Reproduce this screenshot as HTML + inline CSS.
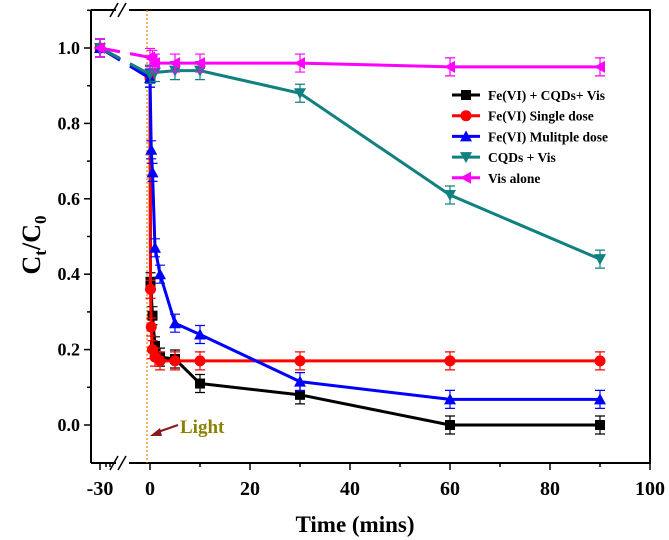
<!DOCTYPE html>
<html><head><meta charset="utf-8"><style>
body{margin:0;background:#fff}
svg{display:block;font-family:"Liberation Serif",serif;font-weight:bold}
</style></head><body>
<svg width="669" height="540" xmlns="http://www.w3.org/2000/svg">
<g id="plot"></g>
</svg>
<script>
const blackT=[-30,0,0.1,0.5,1,2,5,10,30,60,90];
const blackV=[1.0,0.93,0.38,0.29,0.21,0.18,0.175,0.11,0.08,0.0,0.0];
const redT=[-30,0,0.1,0.25,0.5,1,2,5,10,30,60,90];
const redV=[1.0,0.92,0.36,0.26,0.20,0.18,0.17,0.17,0.17,0.17,0.17,0.17];
const blueT=[-30,0,0.25,0.5,1,2,5,10,30,60,90];
const blueV=[1.0,0.92,0.73,0.67,0.47,0.40,0.27,0.24,0.115,0.068,0.068];
const tealT=[-30,0,1,5,10,30,60,90];
const tealV=[1.0,0.93,0.935,0.94,0.94,0.88,0.61,0.44];
const magT=[-30,0,0.5,1,5,10,30,60,90];
const magV=[1.0,0.975,0.97,0.96,0.96,0.96,0.96,0.95,0.95];
const xTickLabels=["-30","0","20","40","60","80","100"];
const yTickLabels=["0.0","0.2","0.4","0.6","0.8","1.0"];
const legendLabels=["Fe(VI) + CQDs+ Vis","Fe(VI) Single dose","Fe(VI) Mulitple dose","CQDs + Vis","Vis alone"];

const NS="http://www.w3.org/2000/svg";
const g=document.getElementById('plot');
const L=91,R=650,T=10,B=463;
function X(t){return t<=-20?100+(t+30)*2:150+t*5.0;}
function Y(v){return 425-v*377;}
function mk(tag,attrs,parent){const e=document.createElementNS(NS,tag);for(const k in attrs)e.setAttribute(k,attrs[k]);(parent||g).appendChild(e);return e;}

let ax=mk('path',{d:`M${L},${B}H116M129,${B}H${R}V${T}H129M116,${T}H${L}Z`,fill:'none',stroke:'#000','stroke-width':2});


mk('path',{d:`M${L},${T}V${B}`,stroke:'#000','stroke-width':2});
[[114,B],[122,B],[114,T],[122,T]].forEach(p=>{
 const s=mk('line',{x1:p[0]-4,y1:p[1]+7,x2:p[0]+4,y2:p[1]-7,stroke:'#000','stroke-width':1.5});
 
 
});
let ol=mk('line',{x1:147,y1:T,x2:147,y2:B,stroke:'#f08000','stroke-width':1.2,'stroke-dasharray':'2,2'});



const xTickVals=[-30,0,20,40,60,80,100];
xTickVals.forEach((t,i)=>{
 mk('line',{x1:X(t),y1:B,x2:X(t),y2:B+7,stroke:'#000','stroke-width':1.5});
 const tx=mk('text',{x:X(t),y:B+32,'text-anchor':'middle','font-size':20});
 tx.textContent=xTickLabels[i];
 
 
});
[10,30,50,70,90].forEach(t=>mk('line',{x1:X(t),y1:B,x2:X(t),y2:B+4,stroke:'#000','stroke-width':1.5}));
[-25,-27].forEach(t=>mk('line',{x1:X(t),y1:B,x2:X(t),y2:B+4,stroke:'#000','stroke-width':1.5}));
yTickLabels.forEach((lab,i)=>{
 const v=i*0.2;
 mk('line',{x1:L-7,y1:Y(v),x2:L,y2:Y(v),stroke:'#000','stroke-width':1.5});
 const tx=mk('text',{x:L-11,y:Y(v)+6,'text-anchor':'end','font-size':18});
 tx.textContent=lab;
 
 
});
for(let i=0;i<6;i++){const v=i*0.2+0.1;mk('line',{x1:L-4,y1:Y(v),x2:L,y2:Y(v),stroke:'#000','stroke-width':1.5});}

function marker(type,x,y,c,parent){
 const s=5;
 if(type==='sq')return mk('rect',{x:x-s,y:y-s,width:2*s,height:2*s,fill:c},parent);
 if(type==='ci')return mk('circle',{cx:x,cy:y,r:5.5,fill:c},parent);
 if(type==='up')return mk('polygon',{points:`${x},${y-6} ${x-6},${y+5} ${x+6},${y+5}`,fill:c},parent);
 if(type==='dn')return mk('polygon',{points:`${x},${y+6} ${x-6},${y-5} ${x+6},${y-5}`,fill:c},parent);
 if(type==='lf')return mk('polygon',{points:`${x-6},${y} ${x+5},${y-6} ${x+5},${y+6}`,fill:c},parent);
}
function series(name,T_,V,c,type){
 const sg=mk('g',{});
 
 
 const x0=X(T_[0]),y0=Y(V[0]),x1=X(T_[1]),y1=Y(V[1]);
 const f=(x)=> y0+(y1-y0)*(x-x0)/(x1-x0);
 mk('polyline',{points:`${x0},${y0} 120,${f(120)}`,fill:'none',stroke:c,'stroke-width':3},sg);
 const pts=[[130,f(130)]].concat(T_.slice(1).map((t,i)=>[X(t),Y(V[i+1])]));
 mk('polyline',{points:pts.map(p=>p.join(',')).join(' '),fill:'none',stroke:c,'stroke-width':3,'stroke-linejoin':'round'},sg);
 T_.forEach((t,i)=>{
  const x=X(t),y=Y(V[i]);
  mk('path',{d:`M${x},${y-9}V${y+9}M${x-5},${y-9}H${x+5}M${x-5},${y+9}H${x+5}`,stroke:c,'stroke-width':1.2,fill:'none'},sg);
  const m=marker(type,x,y,c,sg);
  
  
 });
}
series('series-fevi-cqds-vis',blackT,blackV,'#000000','sq');
series('series-single-dose',redT,redV,'#ff0000','ci');
series('series-multiple-dose',blueT,blueV,'#0000ff','up');
series('series-cqds-vis',tealT,tealV,'#108080','dn');
series('series-vis-alone',magT,magV,'#ff00ff','lf');

const lc=['#000000','#ff0000','#0000ff','#108080','#ff00ff'],lt=['sq','ci','up','dn','lf'];
legendLabels.forEach((lab,i)=>{
 const y=95+i*20.7;
 const lg=mk('g',{});
 
 
 mk('line',{x1:452,y1:y,x2:480,y2:y,stroke:lc[i],'stroke-width':3},lg);
 marker(lt[i],466,y,lc[i],lg);
 const tx=mk('text',{x:488,y:y+5,'font-size':13.5},lg);
 tx.textContent=lab;
});
const ar=mk('path',{d:'M178,425L158,432',stroke:'#8b1a1a','stroke-width':2});


mk('polygon',{points:'150,436 160,428 162,436',fill:'#8b1a1a'});
const lt2=mk('text',{x:180,y:433,'font-size':19,fill:'#8b8000'});
lt2.textContent='Light';


const xt=mk('text',{x:355,y:532,'text-anchor':'middle','font-size':23});
xt.textContent='Time (mins)';


const yt=mk('text',{transform:'translate(40,245) rotate(-90)','text-anchor':'middle','font-size':26});


yt.innerHTML='C<tspan font-size="17" dy="6">t</tspan><tspan dy="-6">/C</tspan><tspan font-size="17" dy="6">0</tspan>';
</script>
</body></html>
